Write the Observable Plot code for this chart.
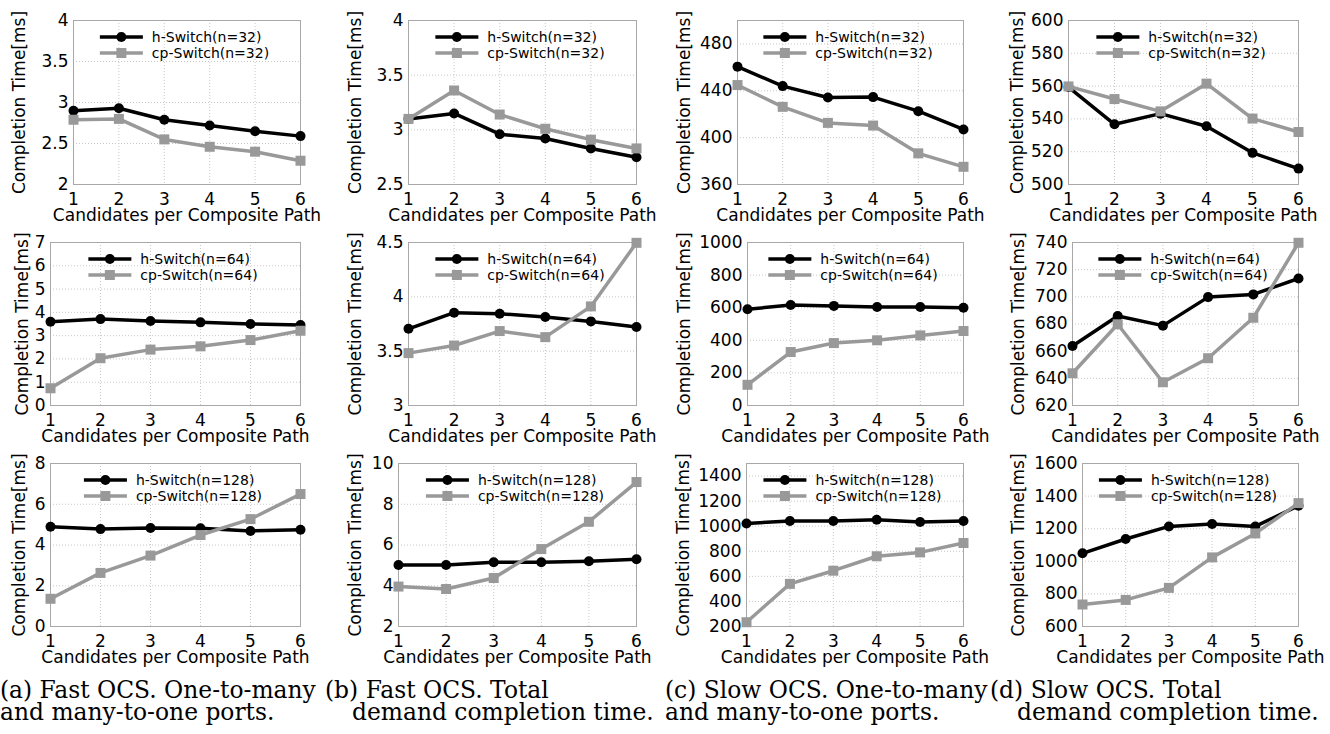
<!DOCTYPE html>
<html><head><meta charset="utf-8">
<script src="https://cdn.jsdelivr.net/npm/d3@7"></script>
<script src="https://cdn.jsdelivr.net/npm/@observablehq/plot@0.6"></script>
<style>
body{margin:0;background:#fff;}
#root{position:relative;width:1330px;height:734px;overflow:hidden;background:#fff;}
.panel{position:absolute;}
.panel svg{overflow:visible;}
.cap{position:absolute;font-family:"DejaVu Serif";white-space:nowrap;color:#000;line-height:20px;}
</style></head><body><div id="root"></div>
<script>
// ---- data ----
const candidates = [1, 2, 3, 4, 5, 6];
const xTicks = [1, 2, 3, 4, 5, 6];

const hFastOne32 = [2.90, 2.93, 2.79, 2.72, 2.65, 2.59];
const cpFastOne32 = [2.79, 2.80, 2.55, 2.46, 2.40, 2.29];
const hFastTotal32 = [3.10, 3.15, 2.96, 2.92, 2.83, 2.75];
const cpFastTotal32 = [3.10, 3.36, 3.14, 3.01, 2.91, 2.83];
const hSlowOne32 = [460.6, 444.0, 434.3, 434.6, 422.6, 407.0];
const cpSlowOne32 = [444.9, 426.3, 412.6, 410.3, 386.6, 375.1];
const hSlowTotal32 = [559.4, 536.7, 543.2, 535.5, 519.3, 509.7];
const cpSlowTotal32 = [559.8, 552.1, 544.6, 561.5, 540.2, 532.0];

const hFastOne64 = [3.60, 3.71, 3.63, 3.57, 3.50, 3.46];
const cpFastOne64 = [0.74, 2.03, 2.40, 2.54, 2.81, 3.21];
const hFastTotal64 = [3.706, 3.854, 3.845, 3.814, 3.774, 3.722];
const cpFastTotal64 = [3.482, 3.552, 3.685, 3.629, 3.912, 4.497];
const hSlowOne64 = [590, 617, 611, 604, 604, 600];
const cpSlowOne64 = [127, 328, 383, 400, 430, 457];
const hSlowTotal64 = [663.8, 685.9, 678.8, 699.8, 701.8, 713.5];
const cpSlowTotal64 = [643.7, 679.8, 637.1, 654.8, 684.6, 739.8];

const hFastOne128 = [4.90, 4.78, 4.83, 4.82, 4.69, 4.75];
const cpFastOne128 = [1.36, 2.63, 3.48, 4.49, 5.27, 6.50];
const hFastTotal128 = [5.02, 5.02, 5.15, 5.15, 5.20, 5.30];
const cpFastTotal128 = [3.96, 3.84, 4.38, 5.80, 7.14, 9.09];
const hSlowOne128 = [1021, 1042, 1042, 1052, 1034, 1042];
const cpSlowOne128 = [234, 540, 645, 760, 791, 866];
const hSlowTotal128 = [1049, 1137, 1214, 1229, 1214, 1341];
const cpSlowTotal128 = [735, 763, 837, 1024, 1171, 1357];

// y tick labels / domains
const yTicksFastOne32 = [2, 2.5, 3, 3.5, 4];
const yTicksFastTotal32 = [2.5, 3, 3.5, 4];
const yTicksSlowOne32 = [360, 400, 440, 480];
const yTicksSlowTotal32 = [500, 520, 540, 560, 580, 600];
const yTicksFastOne64 = [0, 1, 2, 3, 4, 5, 6, 7];
const yTicksFastTotal64 = [3, 3.5, 4, 4.5];
const yTicksSlowOne64 = [0, 200, 400, 600, 800, 1000];
const yTicksSlowTotal64 = [620, 640, 660, 680, 700, 720, 740];
const yTicksFastOne128 = [0, 2, 4, 6, 8];
const yTicksFastTotal128 = [2, 4, 6, 8, 10];
const yTicksSlowOne128 = [200, 400, 600, 800, 1000, 1200, 1400];
const yTicksSlowTotal128 = [600, 800, 1000, 1200, 1400, 1600];

const yDomainSlowOne32 = [360, 500];
const yDomainSlowOne128 = [200, 1500];

const portCounts = [32, 64, 128];
const yLabel = "Completion Time[ms]";
const xLabel = "Candidates per Composite Path";
const captionFirst = ["(a) Fast OCS. One-to-many", "(b) Fast OCS. Total", "(c) Slow OCS. One-to-many", "(d) Slow OCS. Total"];
const captionSecond = ["and many-to-one ports.", "demand completion time.", "and many-to-one ports.", "demand completion time."];

// ---- layout ----
const colLeft = [0, 330, 660, 990];
const colWidth = [336, 336, 336, 340];
const frameRight = [300, 636, 963, 1298];
const rowTop = [0, 222, 443];
const panelH = 225;
const frameTop = [20, 242, 463];
const frameBottom = [184, 405, 626];
const frameLeft = [
  [73, 408, 737, 1068],
  [50, 408, 747, 1072],
  [50, 398, 746, 1082]
];
const yLabelX = [[19, 355, 684, 1017], [22, 355, 684, 1018], [19, 355, 683, 1018]];

const panels = [
  [ [hFastOne32, cpFastOne32, yTicksFastOne32, null], [hFastTotal32, cpFastTotal32, yTicksFastTotal32, null],
    [hSlowOne32, cpSlowOne32, yTicksSlowOne32, yDomainSlowOne32], [hSlowTotal32, cpSlowTotal32, yTicksSlowTotal32, null] ],
  [ [hFastOne64, cpFastOne64, yTicksFastOne64, null], [hFastTotal64, cpFastTotal64, yTicksFastTotal64, null],
    [hSlowOne64, cpSlowOne64, yTicksSlowOne64, null], [hSlowTotal64, cpSlowTotal64, yTicksSlowTotal64, null] ],
  [ [hFastOne128, cpFastOne128, yTicksFastOne128, null], [hFastTotal128, cpFastTotal128, yTicksFastTotal128, null],
    [hSlowOne128, cpSlowOne128, yTicksSlowOne128, yDomainSlowOne128], [hSlowTotal128, cpSlowTotal128, yTicksSlowTotal128, null] ]
];

const FONT = "DejaVu Sans";
const GRAY = "#999999";
const ctx = document.createElement("canvas").getContext("2d");
function measure(text, font) { ctx.font = font; return ctx.measureText(text).width; }

function legendMark(n) {
  return (index, scales, values, dims) => {
    const {width, marginLeft, marginRight, marginTop} = dims;
    const labels = [`h-Switch(n=${n})`, `cp-Switch(n=${n})`];
    const tw = measure(labels[1], `14px ${FONT}`);
    const lineLen = 43, gap = 9;
    const W = lineLen + gap + tw;
    const cx = (marginLeft + width - marginRight) / 2;
    const x0 = cx - W / 2 - 2;
    const g = d3.create("svg:g");
    const rows = [
      {y: marginTop + 17, color: "#000", label: labels[0], sym: "circle"},
      {y: marginTop + 33, color: GRAY, label: labels[1], sym: "square"}
    ];
    for (const r of rows) {
      g.append("line").attr("x1", x0).attr("x2", x0 + lineLen).attr("y1", r.y).attr("y2", r.y)
        .attr("stroke", r.color).attr("stroke-width", 3.5);
      if (r.sym === "circle") g.append("circle").attr("cx", x0 + lineLen / 2).attr("cy", r.y).attr("r", 5).attr("fill", r.color);
      else g.append("rect").attr("x", x0 + lineLen / 2 - 5).attr("y", r.y - 5).attr("width", 10).attr("height", 10).attr("fill", r.color);
      g.append("text").attr("x", x0 + lineLen + gap).attr("y", r.y).attr("dy", "0.35em")
        .attr("text-anchor", "start")
        .attr("font-family", FONT).attr("font-size", 14).attr("fill", "#000").text(r.label);
    }
    return g.node();
  };
}

const root = document.getElementById("root");

for (let r = 0; r < 3; r++) {
  for (let c = 0; c < 4; c++) {
    const [hVals, cpVals, yTicks, yDom] = panels[r][c];
    const hData = candidates.map((k, i) => ({k, v: hVals[i]}));
    const cpData = candidates.map((k, i) => ({k, v: cpVals[i]}));
    const domain = yDom || [yTicks[0], yTicks[yTicks.length - 1]];
    const fl = frameLeft[r][c];
    const plot = Plot.plot({
      width: colWidth[c],
      height: panelH,
      marginLeft: fl - colLeft[c],
      marginRight: colLeft[c] + colWidth[c] - frameRight[c],
      marginTop: frameTop[r] - rowTop[r],
      marginBottom: rowTop[r] + panelH - frameBottom[r],
      style: {fontFamily: FONT, fontSize: "17px", background: "transparent", color: "#000", overflow: "visible"},
      x: {domain: [1, 6]},
      y: {domain},
      marks: [
        Plot.gridX(xTicks, {stroke: "#c8c8c8", strokeOpacity: 1, strokeDasharray: "1,2"}),
        Plot.gridY(yTicks, {stroke: "#c8c8c8", strokeOpacity: 1, strokeDasharray: "1,2"}),
        Plot.frame({stroke: "#a8a8a8", strokeWidth: 1}),
        Plot.axisX({ticks: xTicks, tickSize: 0, tickPadding: 8, fontSize: 17, label: null, tickFormat: d => String(d)}),
        Plot.axisY({ticks: yTicks, tickSize: 0, tickPadding: 5, fontSize: 17, label: null, tickFormat: d => String(d)}),
        Plot.text([xLabel], {text: d => d, frameAnchor: "bottom", textAnchor: "middle", lineAnchor: "middle", dy: 31, fontSize: 17, fill: "#000"}),
        Plot.text([yLabel], {text: d => d, frameAnchor: "left", textAnchor: "middle", lineAnchor: "middle", rotate: -90, dx: yLabelX[r][c] - fl, fontSize: 17, fill: "#000"}),
        Plot.line(hData, {x: "k", y: "v", stroke: "#000", strokeWidth: 3.5}),
        Plot.dot(hData, {x: "k", y: "v", r: 5, fill: "#000", stroke: "none"}),
        Plot.line(cpData, {x: "k", y: "v", stroke: GRAY, strokeWidth: 3.5}),
        Plot.dot(cpData, {x: "k", y: "v", r: 5.64, symbol: "square", fill: GRAY, stroke: "none"}),
        legendMark(portCounts[r])
      ]
    });
    const div = document.createElement("div");
    div.className = "panel";
    div.style.left = colLeft[c] + "px";
    div.style.top = rowTop[r] + "px";
    div.appendChild(plot);
    root.appendChild(div);
  }
}

// ---- captions ----
const capBaseSize = 22;
const capSize = capBaseSize * 316 / measure(captionFirst[0], `${capBaseSize}px "DejaVu Serif"`);
const capLeft = [0, 325, 665, 990];
const capIndent = [0, 27, 0, 27];
for (let i = 0; i < 4; i++) {
  const lines = [[captionFirst[i], capLeft[i], 680], [captionSecond[i], capLeft[i] + capIndent[i], 702]];
  for (const [t, x, y] of lines) {
    const d = document.createElement("div");
    d.className = "cap";
    d.style.left = x + "px";
    d.style.top = y + "px";
    d.style.fontSize = capSize + "px";
    d.textContent = t;
    root.appendChild(d);
  }
}
</script>
</body></html>
